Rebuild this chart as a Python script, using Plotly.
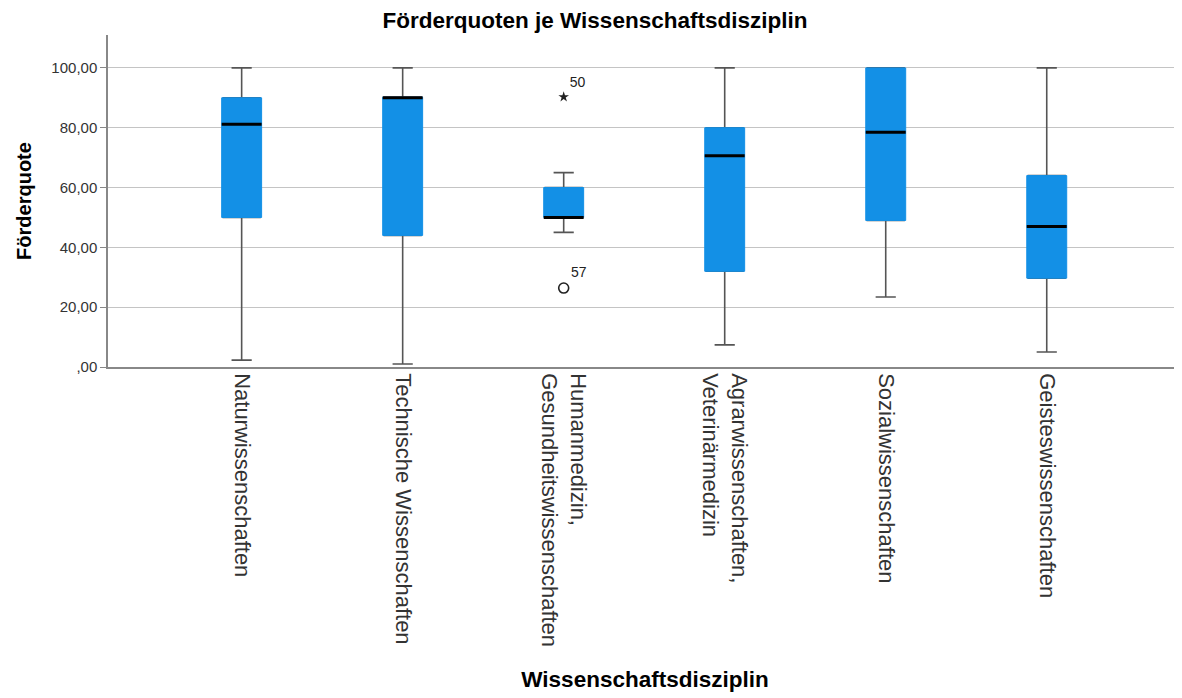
import plotly.graph_objects as go

disziplinen = [
    "Naturwissenschaften",
    "Technische Wissenschaften",
    "Humanmedizin,<br>Gesundheitswissenschaften",
    "Agrarwissenschaften,<br>Veterinärmedizin",
    "Sozialwissenschaften",
    "Geisteswissenschaften",
]
minimum = [2.3, 1.0, 45.0, 7.4, 23.4, 5.0]
q1 = [50.0, 44.0, 50.0, 32.0, 49.0, 29.7]
median = [81.2, 90.0, 50.0, 70.6, 78.5, 47.0]
q3 = [90.0, 90.2, 60.0, 80.0, 100.0, 64.0]
maximum = [100.0, 100.0, 65.0, 100.0, 100.0, 100.0]

# Ausreißer (Fallnummern als Beschriftung)
extrem_pos = [2]
extrem_wert = [90.3]
extrem_fall = ["50"]
ausreisser_pos = [2]
ausreisser_wert = [26.4]
ausreisser_fall = ["57"]

y_ticks = [0, 20, 40, 60, 80, 100]
y_ticktext = [",00", "20,00", "40,00", "60,00", "80,00", "100,00"]

BLUE = "#1390e6"
GREY = "#555555"
FONT = "Liberation Sans, Arial, sans-serif"

pos = list(range(len(disziplinen)))
box_w = 0.248

fig = go.Figure()

# Whisker (grau) über den vollen Box-Trace
fig.add_trace(
    go.Box(
        x=pos,
        q1=q1,
        median=median,
        q3=q3,
        lowerfence=minimum,
        upperfence=maximum,
        width=box_w - 0.02,
        whiskerwidth=0.55,
        fillcolor=BLUE,
        line=dict(color=GREY, width=1.6),
        boxpoints=False,
        showlegend=False,
        hoverinfo="skip",
    )
)

# Kasten ohne dunklen Rand darüber legen
fig.add_trace(
    go.Box(
        x=pos,
        q1=q1,
        median=median,
        q3=q3,
        lowerfence=q1,
        upperfence=q3,
        width=box_w,
        whiskerwidth=0,
        fillcolor=BLUE,
        line=dict(color=BLUE, width=1),
        boxpoints=False,
        showlegend=False,
        hoverinfo="skip",
    )
)

# Mediane als schwarze Linien
med_x, med_y = [], []
for p, m in zip(pos, median):
    med_x += [p - box_w / 2, p + box_w / 2, None]
    med_y += [m, m, None]
fig.add_trace(
    go.Scatter(
        x=med_x,
        y=med_y,
        mode="lines",
        line=dict(color="black", width=3),
        showlegend=False,
        hoverinfo="skip",
    )
)

fig.add_trace(
    go.Scatter(
        x=extrem_pos,
        y=extrem_wert,
        mode="markers+text",
        marker=dict(symbol="star", size=8, color="#222222"),
        text=extrem_fall,
        textposition="top right",
        textfont=dict(family=FONT, size=14, color="#222222"),
        showlegend=False,
    )
)
fig.add_trace(
    go.Scatter(
        x=ausreisser_pos,
        y=ausreisser_wert,
        mode="markers+text",
        marker=dict(symbol="circle-open", size=10, color="#222222", line=dict(width=1.6)),
        text=ausreisser_fall,
        textposition="top right",
        textfont=dict(family=FONT, size=14, color="#222222"),
        showlegend=False,
    )
)

fig.update_layout(
    width=1174,
    height=690,
    paper_bgcolor="white",
    plot_bgcolor="white",
    font=dict(family=FONT, color="#222222"),
    margin=dict(l=100, r=0, t=27, b=331),
    title=dict(
        text="<b>Förderquoten je Wissenschaftsdisziplin</b>",
        x=0.5,
        xanchor="center",
        y=0.982,
        yanchor="middle",
        font=dict(size=22.5, color="black"),
    ),
)

fig.update_xaxes(
    range=[-0.83, 5.84],
    tickvals=pos,
    ticktext=disziplinen,
    tickangle=90,
    tickfont=dict(size=22, color="#333333"),
    showgrid=False,
    zeroline=False,
    showline=True,
    linecolor="#888888",
    linewidth=1.5,
    ticks="",
    title=dict(
        text="<b>Wissenschaftsdisziplin</b>",
        font=dict(size=22.5, color="black"),
        standoff=25,
    ),
)
fig.update_yaxes(
    range=[0, 111],
    tickvals=y_ticks,
    ticktext=y_ticktext,
    tickfont=dict(size=15, color="#333333"),
    showgrid=True,
    gridcolor="#c4c4c4",
    gridwidth=1,
    zeroline=False,
    showline=True,
    linecolor="#888888",
    linewidth=1.5,
    ticks="outside",
    ticklen=6,
    tickcolor="#888888",
    title=dict(
        text="<b>Förderquote</b>",
        font=dict(size=20, color="black"),
        standoff=14,
    ),
)

fig.write_html("out.html")
